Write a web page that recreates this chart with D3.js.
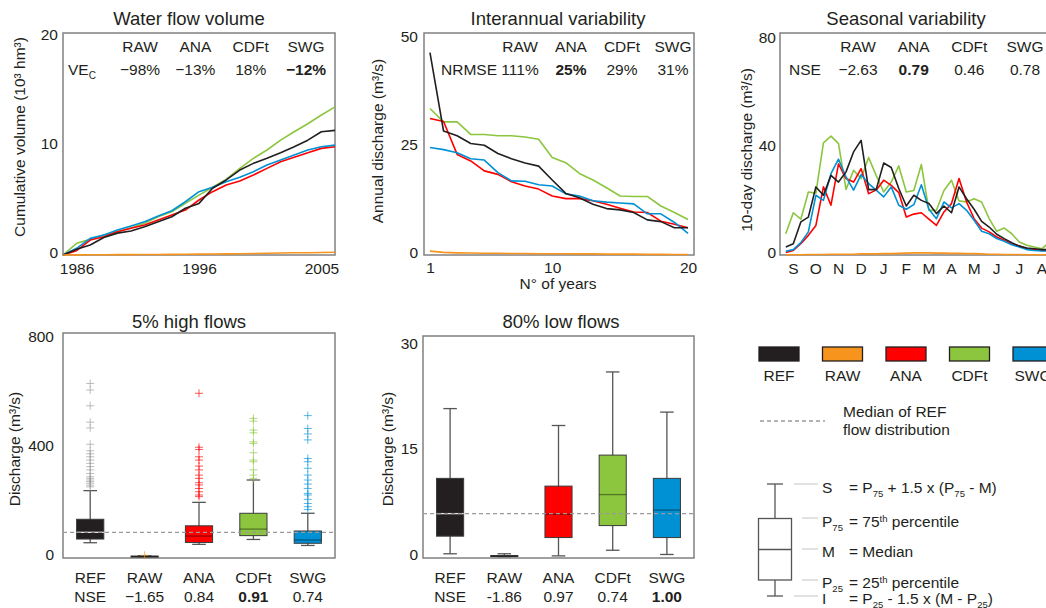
<!DOCTYPE html>
<meta charset="utf-8">
<style>
	body { margin: 0; background: #fff; }
	svg { font-family: "Liberation Sans", Arial, sans-serif; font-size: 15.5px; }
	svg text { fill: #231f20; }
	.axis text { font-size: 15.5px; font-family: "Liberation Sans", Arial, sans-serif; fill: #231f20; }
	.title { font-size: 18.5px; text-anchor: middle; }
	.frame { fill: none; stroke: #808080; stroke-width: 1.5; }
	.series { fill: none; stroke-width: 1.6; stroke-linejoin: round; }
	.whisker { stroke: #555; stroke-width: 1.3; }
	.median-ref { stroke: #9a9a9a; stroke-width: 1.3; stroke-dasharray: 4,3; }
	.leader { stroke: #c4c4c4; stroke-width: 1; }
</style>
<script src="https://d3js.org/d3.v7.min.js"></script>
<svg width="1046" height="608" class="fig"></svg>
<script>

var methods = ["REF", "RAW", "ANA", "CDFt", "SWG"];
var colors = ["#231f20", "#f7941e", "#ff0000", "#8cc63f", "#0091d5"];
var drawOrder = [3, 2, 4, 0, 1];

// water flow volume: cumulative volume (10^3 hm3) at each hydrological year boundary
var volTickPos = [1, 10, 19];
var volTickLabels = ["1986", "1996", "2005"];
var volREF = [0, 0.52, 0.91, 1.6, 2.0, 2.2, 2.59, 3.05, 3.5, 4.27, 4.72, 6.1, 6.86, 7.77, 8.38, 8.84, 9.35, 9.9, 10.5, 11.27, 11.4];
var volRAW = [0, 0.01, 0.02, 0.02, 0.03, 0.03, 0.04, 0.05, 0.06, 0.07, 0.08, 0.09, 0.1, 0.12, 0.14, 0.16, 0.18, 0.2, 0.21, 0.23, 0.25];
var volANA = [0, 0.39, 1.37, 1.67, 2.13, 2.44, 2.74, 3.2, 3.66, 4.11, 5.03, 5.79, 6.4, 6.76, 7.31, 7.92, 8.53, 8.93, 9.35, 9.75, 9.9];
var volCDFt = [0, 1.07, 1.43, 1.83, 2.13, 2.5, 2.9, 3.5, 3.96, 4.72, 5.48, 6.19, 6.92, 7.92, 8.84, 9.6, 10.5, 11.27, 12.0, 12.8, 13.55];
var volSWG = [0, 0.61, 1.52, 1.83, 2.28, 2.65, 3.05, 3.56, 4.05, 4.87, 5.79, 6.19, 6.7, 7.1, 7.62, 8.23, 8.68, 9.14, 9.6, 9.9, 10.05];
var volVE = ["\u221298%", "\u221213%", "18%", "\u221212%"];

// interannual variability: sorted annual discharge (m3/s), years 1..20
var iaTicks = [1, 10, 20];
var iaREF = [46.7, 28.6, 27.5, 25.7, 25.3, 23.4, 22.2, 21.2, 20.5, 17.3, 14.2, 13.2, 11.7, 10.7, 10.4, 9.8, 8.1, 7.7, 6.3, 6.3];
var iaRAW = [0.9, 0.6, 0.5, 0.45, 0.4, 0.4, 0.35, 0.35, 0.3, 0.3, 0.3, 0.25, 0.25, 0.2, 0.2, 0.2, 0.15, 0.15, 0.1, 0.1];
var iaANA = [31.5, 30.8, 23.2, 21.7, 19.4, 18.6, 16.9, 15.9, 15.2, 13.6, 13.0, 13.0, 12.5, 11.7, 10.8, 9.9, 9.8, 7.8, 7.1, 6.3];
var iaCDFt = [33.8, 30.7, 30.7, 27.8, 27.8, 27.5, 27.5, 27.2, 26.7, 22.5, 21.3, 18.8, 17.3, 15.5, 13.6, 13.5, 13.5, 11.3, 9.8, 8.2];
var iaSWG = [24.8, 24.3, 23.6, 22.2, 21.9, 19.0, 17.1, 17.0, 16.2, 15.9, 14.1, 13.6, 12.5, 12.2, 12.0, 11.8, 9.5, 9.5, 7.5, 5.0];
var iaNRMSE = ["111%", "25%", "29%", "31%"];

// seasonal variability: 10-day discharge (m3/s), 36 dekads from September
var months = ["S", "O", "N", "D", "J", "F", "M", "A", "M", "J", "J", "A"];
var seaREF = [3.0, 4.2, 12.3, 14.1, 25.3, 22.2, 29.6, 27.1, 30.9, 38.3, 42.6, 24.3, 24.3, 34.2, 32.5, 24.7, 18.2, 22.2, 20.3, 19.1, 15.4, 18.2, 15.7, 25.3, 20.9, 17.0, 12.5, 10.4, 7.7, 6.1, 4.6, 3.3, 2.6, 2.3, 2.0, 2.0];
var seaRAW = [0.1, 0.1, 0.1, 0.2, 0.2, 0.2, 0.3, 0.3, 0.3, 0.3, 0.4, 0.4, 0.4, 0.5, 0.5, 0.6, 0.7, 0.8, 0.8, 0.8, 0.7, 0.7, 0.6, 0.6, 0.5, 0.5, 0.4, 0.3, 0.3, 0.2, 0.2, 0.2, 0.1, 0.1, 0.1, 0.1];
var seaANA = [0.9, 1.7, 4.2, 7.3, 11.0, 25.3, 18.5, 33.9, 28.4, 27.1, 32.1, 22.8, 24.1, 27.8, 25.9, 23.2, 14.1, 15.2, 15.7, 13.3, 11.0, 16.0, 19.1, 28.4, 19.7, 13.5, 10.0, 8.6, 6.7, 5.5, 4.2, 3.3, 2.3, 2.0, 1.7, 1.7];
var seaCDFt = [7.9, 15.7, 13.3, 23.4, 23.0, 41.7, 44.2, 41.4, 24.4, 31.5, 28.4, 36.2, 29.6, 23.4, 27.1, 33.1, 23.4, 24.0, 33.6, 16.6, 16.6, 24.0, 27.8, 20.1, 19.7, 20.9, 19.7, 13.5, 8.8, 10.0, 7.9, 4.8, 3.6, 3.0, 2.3, 4.8];
var seaSWG = [1.4, 2.0, 4.6, 8.6, 22.2, 20.3, 30.2, 35.6, 29.0, 24.1, 29.9, 26.5, 24.1, 21.6, 25.3, 18.5, 17.0, 18.7, 26.1, 17.0, 13.5, 19.7, 17.5, 19.1, 16.6, 12.9, 8.8, 7.9, 6.1, 5.1, 3.8, 3.0, 2.0, 1.7, 1.5, 1.5];
var seaNSE = ["\u22122.63", "0.79", "0.46", "0.78"];

// 5% high flows: [lower whisker, P25, median, P75, upper whisker] per method
var hiStats = [
	[51, 64.5, 89, 137, 242],
	[0, 0.5, 1, 2, 3],
	[45, 52, 75.5, 113, 199],
	[63, 77, 101, 159, 281],
	[41, 49, 61, 94, 159]
];
var hiOutREF = [635, 611, 553, 493, 472, 412, 388, 377, 366, 354, 342, 330, 318, 305, 293, 287, 281, 275, 269, 262, 256];
var hiOutRAW = [5];
var hiOutANA = [599, 401, 393, 366, 354, 332, 318, 299, 287, 271, 263, 250, 238, 226, 220];
var hiOutCDFt = [507, 497, 464, 454, 421, 415, 381, 354, 348, 318, 299, 287];
var hiOutSWG = [517, 470, 450, 428, 360, 348, 324, 299, 281, 266, 250, 232, 226, 210, 195, 183, 173];
var hiNSE = ["\u22121.65", "0.84", "0.91", "0.74"];

// 80% low flows
var loStats = [
	[0.4, 2.9, 6.1, 11.1, 21.0],
	[0, 0.02, 0.05, 0.15, 0.4],
	[0.1, 2.7, 6.0, 10.0, 18.6],
	[0.9, 4.4, 8.8, 14.4, 26.2],
	[0.3, 2.7, 6.6, 11.1, 20.5]
];
var loNSE = ["-1.86", "0.97", "0.74", "1.00"];

var svg = d3.select(".fig");

function frame(x0, y0, x1, y1) {
	svg.append("rect").attr("class", "frame")
		.attr("x", x0).attr("y", y0)
		.attr("width", x1 - x0).attr("height", y1 - y0);
}

function title(txt, x, y) {
	svg.append("text").attr("class", "title").attr("x", x).attr("y", y).text(txt);
}

function yTitle(txt, x, y) {
	svg.append("text")
		.attr("transform", "translate(" + x + "," + y + ") rotate(-90)")
		.attr("text-anchor", "middle")
		.attr("dy", "0.35em")
		.text(txt);
}

function yAxis(scale, x, ticks, pad) {
	var g = svg.append("g").attr("class", "axis")
		.attr("transform", "translate(" + x + ",-2)")
		.call(d3.axisLeft(scale).tickValues(ticks).tickSize(0).tickPadding(pad));
	g.select(".domain").remove();
}

function xAxis(scale, y, ticks, fmt, pad) {
	var g = svg.append("g").attr("class", "axis")
		.attr("transform", "translate(0," + y + ")")
		.call(d3.axisBottom(scale).tickValues(ticks).tickFormat(fmt).tickSize(0).tickPadding(pad));
	g.select(".domain").remove();
}

// score table in the top of each line panel
function scores(x0, x1, label, labelX, vals, best) {
	var cols = methods.slice(1);
	var px = d3.scalePoint().domain(cols).range([x0, x1]);
	svg.selectAll(null).data(cols).enter().append("text")
		.attr("x", function(d) { return px(d); })
		.attr("y", 52)
		.attr("text-anchor", "middle")
		.text(function(d) { return d; });
	svg.selectAll(null).data(vals).enter().append("text")
		.attr("x", function(d, i) { return px(cols[i]); })
		.attr("y", 75)
		.attr("text-anchor", "middle")
		.attr("font-weight", function(d, i) { return i === best ? "bold" : null; })
		.text(function(d) { return d; });
	return svg.append("text").attr("x", labelX).attr("y", 75).text(label);
}

function lines(x, y, series, xOf) {
	var line = d3.line()
		.x(function(d, i) { return x(xOf(i)); })
		.y(function(d) { return y(d); });
	drawOrder.forEach(function(k) {
		svg.append("path").attr("class", "series")
			.attr("stroke", colors[k])
			.attr("d", line(series[k]));
	});
}

function boxes(x, y, stats, outliers) {
	var w = x.bandwidth() / 2;
	methods.forEach(function(m, i) {
		var s = stats[i], cx = x(m) + x.bandwidth() / 2;
		var g = svg.append("g");
		g.append("line").attr("class", "whisker")
			.attr("x1", cx).attr("x2", cx).attr("y1", y(s[0])).attr("y2", y(s[4]));
		[s[0], s[4]].forEach(function(v) {
			g.append("line").attr("class", "whisker")
				.attr("x1", cx - w / 4).attr("x2", cx + w / 4).attr("y1", y(v)).attr("y2", y(v));
		});
		g.append("rect")
			.attr("x", cx - w / 2).attr("y", y(s[3]))
			.attr("width", w).attr("height", Math.max(1, y(s[1]) - y(s[3])))
			.attr("fill", colors[i]).attr("stroke", "#3a3a3a").attr("stroke-width", 1);
		g.append("line")
			.attr("x1", cx - w / 2).attr("x2", cx + w / 2).attr("y1", y(s[2])).attr("y2", y(s[2]))
			.attr("stroke", i === 0 ? "#e6e6e6" : "rgba(0,0,0,0.4)").attr("stroke-width", 1.3);
		if (outliers) {
			g.selectAll(null).data(outliers[i]).enter().append("path")
				.attr("d", function(v) {
					var py = y(v);
					return "M" + (cx - 4) + "," + py + "H" + (cx + 4) + "M" + cx + "," + (py - 4) + "V" + (py + 4);
				})
				.attr("fill", "none")
				.attr("stroke", i === 0 ? "#9a9a9a" : colors[i])
				.attr("stroke-opacity", 0.65);
		}
	});
	var r = x.range();
	svg.append("line").attr("class", "median-ref")
		.attr("x1", r[0]).attr("x2", r[1])
		.attr("y1", y(stats[0][2])).attr("y2", y(stats[0][2]));
}

function nseRow(x, vals, best) {
	var cx = function(m) { return x(m) + x.bandwidth() / 2; };
	svg.append("text").attr("x", cx("REF")).attr("y", 602).attr("text-anchor", "middle").text("NSE");
	svg.selectAll(null).data(vals).enter().append("text")
		.attr("x", function(d, i) { return cx(methods[i + 1]); })
		.attr("y", 602)
		.attr("text-anchor", "middle")
		.attr("font-weight", function(d, i) { return i === best ? "bold" : null; })
		.text(function(d) { return d; });
}

// text with sub/superscript pieces
function rich(x, y, parts) {
	var t = svg.append("text").attr("x", x).attr("y", y);
	var shift = 0;
	parts.forEach(function(p) {
		var off = p[1] === "sub" ? 4 : p[1] === "sup" ? -5 : 0;
		t.append("tspan").attr("dy", off - shift)
			.attr("font-size", off ? "9.5px" : null)
			.text(p[0]);
		shift = off;
	});
	return t;
}

// ---- Water flow volume
var xVol = d3.scaleLinear().domain([0, 20]).range([63, 335]),
	yVol = d3.scaleLinear().domain([0, 20.3]).range([255, 33]);
frame(63, 33, 335, 255);
lines(xVol, yVol, [volREF, volRAW, volANA, volCDFt, volSWG], function(i) { return i; });
yAxis(yVol, 63, [0, 10, 20], 5);
xAxis(xVol, 255, volTickPos, function(d, i) { return volTickLabels[i]; }, 8);
title("Water flow volume", 189, 25);
yTitle("Cumulative volume (10\u00b3 hm\u00b3)", 20, 137);
scores(140, 306, "VE", 68, volVE, 3)
	.append("tspan").attr("dy", 4).attr("font-size", "10px").text("C");

// ---- Interannual variability
var xIa = d3.scaleLinear().domain([0.56, 20.44]).range([424, 694]),
	yIa = d3.scaleLinear().domain([0, 51.2]).range([255, 33]);
frame(424, 33, 694, 255);
lines(xIa, yIa, [iaREF, iaRAW, iaANA, iaCDFt, iaSWG], function(i) { return i + 1; });
yAxis(yIa, 424, [0, 25, 50], 6);
xAxis(xIa, 255, iaTicks, function(d) { return d; }, 7);
title("Interannual variability", 558, 25);
yTitle("Annual discharge (m\u00b3/s)", 378, 141);
svg.append("text").attr("x", 558).attr("y", 289).attr("text-anchor", "middle").text("N\u00b0 of years");
scores(520, 673, "NRMSE", 441, iaNRMSE, 1);

// ---- Seasonal variability
var xMon = d3.scaleBand().domain(d3.range(12)).range([782, 1053.2]),
	xDek = d3.scaleLinear().domain([0, 36]).range([782, 1053.2]),
	ySea = d3.scaleLinear().domain([0, 82.5]).range([255, 33]);
frame(780, 33, 1070, 255);
lines(xDek, ySea, [seaREF, seaRAW, seaANA, seaCDFt, seaSWG], function(i) { return i + 0.5; });
yAxis(ySea, 780, [0, 40, 80], 4);
xAxis(xMon, 255, d3.range(12), function(d) { return months[d]; }, 8);
title("Seasonal variability", 906, 25);
yTitle("10-day discharge (m\u00b3/s)", 747, 150);
scores(858, 1025, "NSE", 789, seaNSE, 1);

// ---- 5% high flows
var xHi = d3.scaleBand().domain(methods).range([63, 335]),
	yHi = d3.scaleLinear().domain([-5, 820]).range([558, 333]);
frame(63, 333, 335, 558);
boxes(xHi, yHi, hiStats, [hiOutREF, hiOutRAW, hiOutANA, hiOutCDFt, hiOutSWG]);
yAxis(yHi, 63, [0, 400, 800], 9);
xAxis(xHi, 558, methods, function(d) { return d; }, 14);
title("5% high flows", 189, 328);
yTitle("Discharge (m\u00b3/s)", 15, 449);
nseRow(xHi, hiNSE, 2);

// ---- 80% low flows
var xLo = d3.scaleBand().domain(methods).range([423, 694]),
	yLo = d3.scaleLinear().domain([-0.2, 31.3]).range([558, 336]);
frame(423, 336, 694, 558);
boxes(xLo, yLo, loStats, null);
yAxis(yLo, 423, [0, 15, 30], 5);
xAxis(xLo, 558, methods, function(d) { return d; }, 14);
title("80% low flows", 561, 328);
yTitle("Discharge (m\u00b3/s)", 388, 449);
nseRow(xLo, loNSE, 3);

// ---- Legend
var lg = d3.scaleBand().domain(methods).range([759, 759 + 63.5 * 5]);
methods.forEach(function(m, i) {
	svg.append("rect")
		.attr("x", lg(m)).attr("y", 347).attr("width", 40).attr("height", 14)
		.attr("fill", colors[i]).attr("stroke", "#231f20").attr("stroke-width", 1.3);
	svg.append("text")
		.attr("x", lg(m) + 20).attr("y", 381).attr("text-anchor", "middle").text(m);
});

svg.append("line").attr("class", "median-ref")
	.attr("x1", 760).attr("x2", 825).attr("y1", 421).attr("y2", 421);
svg.append("text").attr("x", 843).attr("y", 417).text("Median of REF");
svg.append("text").attr("x", 843).attr("y", 435).text("flow distribution");

// box plot key
var key = svg.append("g");
key.append("line").attr("class", "whisker").attr("x1", 775).attr("x2", 775).attr("y1", 484).attr("y2", 596);
key.append("line").attr("class", "whisker").attr("x1", 767).attr("x2", 783).attr("y1", 484).attr("y2", 484);
key.append("line").attr("class", "whisker").attr("x1", 767).attr("x2", 783).attr("y1", 596).attr("y2", 596);
key.append("rect").attr("x", 758.5).attr("y", 518.5).attr("width", 33).attr("height", 61.5)
	.attr("fill", "#fff").attr("stroke", "#555").attr("stroke-width", 1.3);
key.append("line").attr("class", "whisker").attr("x1", 758.5).attr("x2", 791.5).attr("y1", 549.5).attr("y2", 549.5);
[[794, 484], [802, 518], [802, 549], [802, 580], [794, 596]].forEach(function(p) {
	key.append("line").attr("class", "leader").attr("x1", p[0]).attr("x2", 818).attr("y1", p[1]).attr("y2", p[1]);
});

rich(822, 493, [["S"]]);
rich(849, 493, [["= P"], ["75", "sub"], [" + 1.5 x (P"], ["75", "sub"], [" - M)"]]);
rich(822, 527, [["P"], ["75", "sub"]]);
rich(849, 527, [["= 75"], ["th", "sup"], [" percentile"]]);
rich(822, 557, [["M"]]);
rich(849, 557, [["= Median"]]);
rich(822, 588, [["P"], ["25", "sub"]]);
rich(849, 588, [["= 25"], ["th", "sup"], [" percentile"]]);
rich(822, 604, [["I"]]);
rich(849, 604, [["= P"], ["25", "sub"], [" - 1.5 x (M - P"], ["25", "sub"], [")"]]);

</script>
